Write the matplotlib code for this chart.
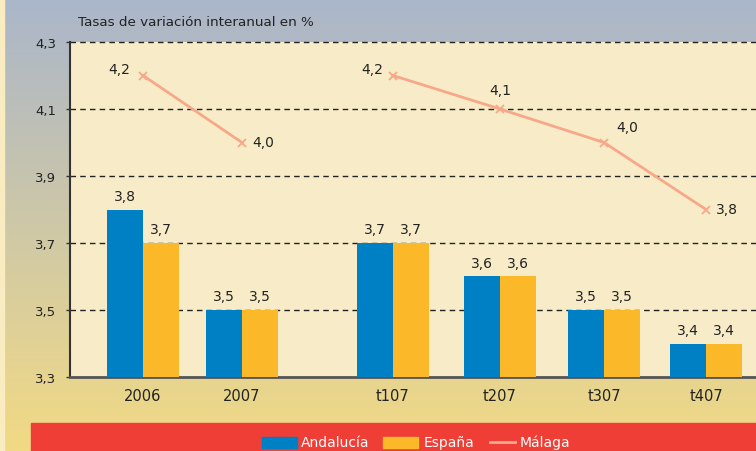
import numpy as np
import matplotlib.pyplot as plt
from matplotlib.patches import Rectangle
from matplotlib.lines import Line2D

# %% Data
categorias = ["2006", "2007", "t107", "t207", "t307", "t407"]
andalucia = [3.8, 3.5, 3.7, 3.6, 3.5, 3.4]
espana = [3.7, 3.5, 3.7, 3.6, 3.5, 3.4]
malaga = [4.2, 4.0, 4.2, 4.1, 4.0, 3.8]
yticks = [3.3, 3.5, 3.7, 3.9, 4.1, 4.3]
series = ["Andalucía", "España", "Málaga"]

# positions (gap between annual and quarterly data)
xpos = np.array([0, 0.97, 2.45, 3.5, 4.52, 5.52])
ancho = 0.353

azul = "#0080c4"
naranja = "#fbb829"
salmon = "#f8a88a"
fondo_plot = "#f8ecc8"
rojo = "#ef3e35"
texto = "#222222"

fig = plt.figure(figsize=(7.56, 4.52), dpi=100)

# %% Background gradient
bg = fig.add_axes([0, 0, 1, 1], zorder=-10)
grad = np.linspace(0, 1, 256).reshape(-1, 1)
top = np.array([170, 182, 202]) / 255
bottom = np.array([242, 218, 132]) / 255
img = top + (bottom - top) * grad[..., None]
bg.imshow(img, aspect="auto", extent=[0, 1, 0, 1], origin="upper")
bg.add_patch(Rectangle((0, 0), 4 / 756, 1, color="#f8ecc0", transform=bg.transAxes))
bg.add_patch(Rectangle((31 / 756, 0), 1, 28 / 452, color=rojo, transform=bg.transAxes))
bg.set_xlim(0, 1)
bg.set_ylim(0, 1)
bg.axis("off")

# %% Main axes
ax = fig.add_axes([70 / 756, 74 / 452, 1 - 70 / 756, 335 / 452])
ax.set_facecolor(fondo_plot)

ax.bar(xpos - ancho / 2, np.array(andalucia) - 3.3, ancho, bottom=3.3, color=azul, lw=0, zorder=3)
ax.bar(xpos + ancho / 2, np.array(espana) - 3.3, ancho, bottom=3.3, color=naranja, lw=0, zorder=3)

# Málaga line broken between annual and quarterly
ax.plot(xpos[:2], malaga[:2], color=salmon, lw=2, marker="x", ms=6, mew=1.3, zorder=4)
ax.plot(xpos[2:], malaga[2:], color=salmon, lw=2, marker="x", ms=6, mew=1.3, zorder=4)

def fmt(v):
    return f"{v:.1f}".replace(".", ",")

for x, a, e in zip(xpos, andalucia, espana):
    ax.text(x - ancho / 2, a + 0.02, fmt(a), ha="center", va="bottom", fontsize=10, color=texto)
    ax.text(x + ancho / 2, e + 0.02, fmt(e), ha="center", va="bottom", fontsize=10, color=texto)

# label offsets for Málaga (points)
offs = [(-17, 5), (15, 0), (-15, 5), (0, 14), (17, 11), (15, 0)]
for x, m, (dx, dy) in zip(xpos, malaga, offs):
    ax.annotate(fmt(m), (x, m), xytext=(dx, dy), textcoords="offset points",
                ha="center", va="center", fontsize=10, color=texto)

ax.set_xlim(-0.716, 6.01)
ax.set_ylim(3.3, 4.3)
ax.set_yticks(yticks)
ax.set_yticklabels([fmt(v) for v in yticks], fontsize=9.5, color=texto)
ax.tick_params(axis="y", length=3, width=1, pad=7, color="#333333")
ax.set_xticks(xpos)
ax.set_xticklabels(categorias, fontsize=10.5, color=texto)
ax.tick_params(axis="x", length=0, pad=8)

for v in yticks[1:]:
    ax.axhline(v, color=texto, lw=1, ls=(0, (4, 3)), zorder=1, clip_on=False)

for s in ["top", "right"]:
    ax.spines[s].set_visible(False)
ax.spines["left"].set_color("#333333")
ax.spines["bottom"].set_color("#555555")
ax.spines["left"].set_linewidth(1.5)
ax.spines["bottom"].set_linewidth(2)

fig.text(78 / 756, 1 - 22 / 452, "Tasas de variación interanual en %", fontsize=9.7,
         color=texto, va="center", ha="left")

# %% Legend on red strip (drawn by hand)
ley_y = 1 - 443 / 452
fig.add_artist(Rectangle((262 / 756, 1 - 449 / 452), 35 / 756, 11 / 452, color=azul))
fig.text(301 / 756, ley_y, series[0], fontsize=10, color="white", va="center", ha="left")
fig.add_artist(Rectangle((383 / 756, 1 - 449 / 452), 35 / 756, 11 / 452, color=naranja))
fig.text(424 / 756, ley_y, series[1], fontsize=10, color="white", va="center", ha="left")
fig.add_artist(Line2D([490 / 756, 515 / 756], [1 - 443 / 452, 1 - 443 / 452], color=salmon, lw=2))
fig.text(520 / 756, ley_y, series[2], fontsize=10, color="white", va="center", ha="left")

fig.savefig("out.png", dpi=100)
